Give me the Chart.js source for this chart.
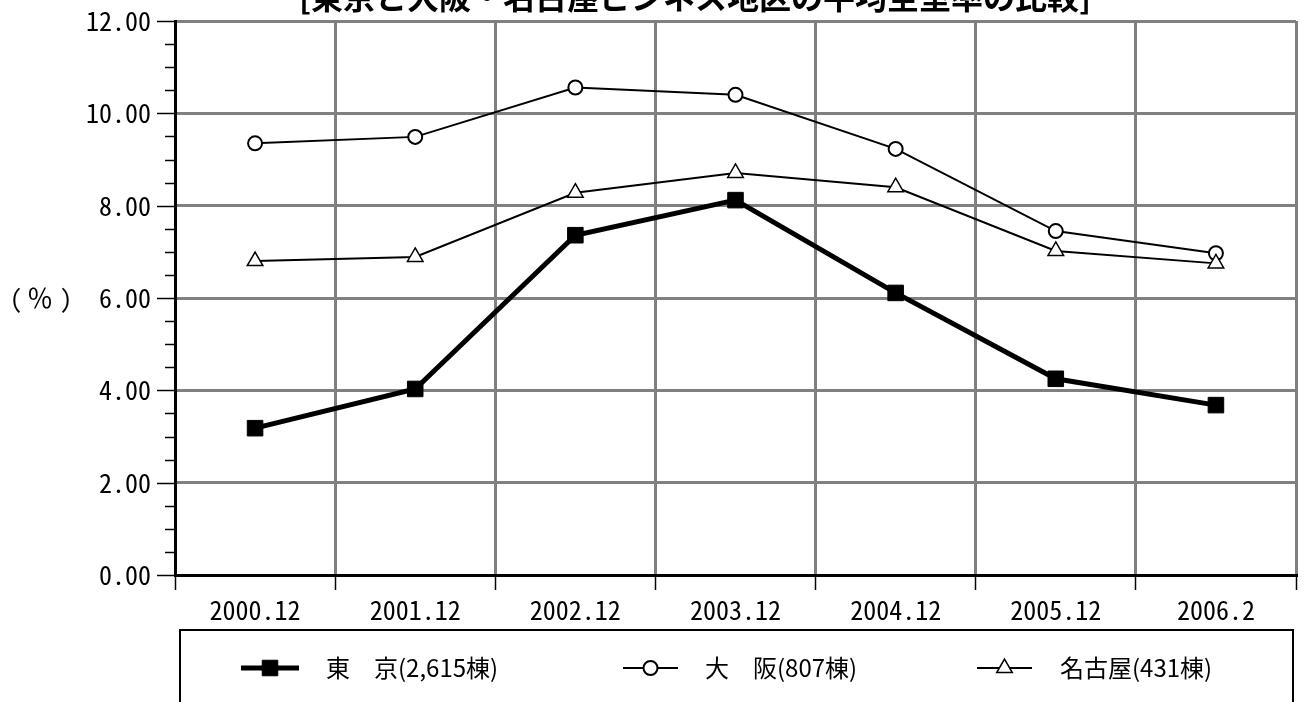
<!DOCTYPE html>
<html lang="ja">
<head>
<meta charset="utf-8">
<title>東京と大阪・名古屋ビジネス地区の平均空室率の比較</title>
<script src="https://cdn.jsdelivr.net/npm/chart.js@4/dist/chart.umd.min.js"></script>
<style>
  html, body { margin: 0; padding: 0; background: #fff; overflow: hidden; }
  #wrap { width: 1308px; height: 702px; }
</style>
</head>
<body>
<div id="wrap"><canvas id="c" width="1308" height="702"></canvas></div>
<script>
// Survey points (year.month)
const categories = ['2000.12', '2001.12', '2002.12', '2003.12', '2004.12', '2005.12', '2006.2'];

// Average vacancy rate (%)
const tokyo  = [3.18, 4.03, 7.36, 8.12, 6.11, 4.25, 3.68];
const osaka  = [9.35, 9.49, 10.56, 10.40, 9.23, 7.45, 6.97];
const nagoya = [6.80, 6.89, 8.28, 8.71, 8.40, 7.02, 6.75];

const seriesNames = ['東　京(2,615棟)', '大　阪(807棟)', '名古屋(431棟)'];
const titleText = '[東京と大阪・名古屋ビジネス地区の平均空室率の比較]';
const yUnitParts = ['(', '％', ')'];

const yMin = 0, yMax = 12, yMajor = 2, yMinor = 0.5;

const numFont = '"Noto Sans Mono CJK JP", "DejaVu Sans Mono", monospace';
const jpFont = '"Noto Sans CJK JP", "Noto Sans", sans-serif';
const GRID = '#808080';

const isMajor = v => Math.abs(v / yMajor - Math.round(v / yMajor)) < 1e-6;

// Title, unit label, minor/major y tick marks and the legend box
const decorations = {
  id: 'decorations',
  afterDraw(chart) {
    const ctx = chart.ctx;
    const y = chart.scales.y;
    const area = chart.chartArea;
    ctx.save();

    // y tick marks
    ctx.strokeStyle = '#000';
    ctx.lineWidth = 1.5;
    y.ticks.forEach(t => {
      const py = Math.round(y.getPixelForValue(t.value)) + 0.5;
      const len = isMajor(t.value) ? 18 : 10;
      ctx.beginPath();
      ctx.moveTo(area.left - len, py);
      ctx.lineTo(area.left, py);
      ctx.stroke();
    });

    // title
    ctx.fillStyle = '#000';
    ctx.font = 'bold 32px ' + jpFont;
    ctx.textAlign = 'center';
    ctx.textBaseline = 'alphabetic';
    ctx.fillText(titleText, 695, 9);

    // unit label
    const uy = y.getPixelForValue(6);
    ctx.textBaseline = 'middle';
    ctx.textAlign = 'center';
    ctx.font = '25px ' + numFont;
    ctx.fillText(yUnitParts[0], 16, uy);
    ctx.font = '26px ' + jpFont;
    ctx.fillText(yUnitParts[1], 40, uy);
    ctx.font = '25px ' + numFont;
    ctx.fillText(yUnitParts[2], 66, uy);

    // legend box
    ctx.lineWidth = 2;
    ctx.strokeStyle = '#000';
    ctx.strokeRect(180, 630, 1113, 120);

    const ly = 668;
    const ds = chart.data.datasets;
    const items = [
      { x0: 241, x1: 299, tx: 326, r: 11 },
      { x0: 623, x1: 678, tx: 705, r: 7 },
      { x0: 977, x1: 1032, tx: 1060, r: 9 }
    ];
    items.forEach((it, i) => {
      const d = ds[i];
      ctx.strokeStyle = '#000';
      ctx.lineWidth = d.borderWidth;
      ctx.beginPath();
      ctx.moveTo(it.x0, ly);
      ctx.lineTo(it.x1, ly);
      ctx.stroke();
      ctx.fillStyle = d.pointBackgroundColor;
      ctx.strokeStyle = d.pointBorderColor;
      ctx.lineWidth = d.pointBorderWidth;
      Chart.helpers.drawPoint(ctx, {
        pointStyle: d.pointStyle,
        radius: it.r,
        borderWidth: d.pointBorderWidth
      }, (it.x0 + it.x1) / 2, ly);
      ctx.fillStyle = '#000';
      ctx.font = '24px ' + jpFont;
      ctx.textAlign = 'left';
      ctx.textBaseline = 'middle';
      ctx.fillText(seriesNames[i], it.tx, ly);
    });
    ctx.restore();
  }
};

new Chart(document.getElementById('c'), {
  type: 'line',
  data: {
    labels: categories,
    datasets: [
      {
        label: seriesNames[0],
        data: tokyo,
        borderColor: '#000',
        borderWidth: 5,
        pointStyle: 'rect',
        pointRadius: 11,
        pointBackgroundColor: '#000',
        pointBorderColor: '#000',
        pointBorderWidth: 1,
        tension: 0,
        order: 2
      },
      {
        label: seriesNames[1],
        data: osaka,
        borderColor: '#000',
        borderWidth: 2,
        pointStyle: 'circle',
        pointRadius: 7,
        pointBackgroundColor: '#fff',
        pointBorderColor: '#000',
        pointBorderWidth: 2,
        tension: 0,
        order: 1
      },
      {
        label: seriesNames[2],
        data: nagoya,
        borderColor: '#000',
        borderWidth: 2,
        pointStyle: 'triangle',
        pointRadius: 9,
        pointBackgroundColor: '#fff',
        pointBorderColor: '#000',
        pointBorderWidth: 1.5,
        tension: 0,
        order: 0
      }
    ]
  },
  options: {
    responsive: false,
    animation: false,
    devicePixelRatio: 1,
    layout: { padding: { top: 21, right: 7, left: 0, bottom: 0 } },
    plugins: {
      legend: { display: false },
      title: { display: false },
      tooltip: { enabled: false }
    },
    scales: {
      x: {
        type: 'category',
        offset: true,
        grid: {
          offset: true,
          color: GRID,
          lineWidth: 3,
          drawTicks: true,
          tickLength: 15,
          tickColor: '#000',
          tickWidth: 1.5
        },
        border: { display: true, color: '#000', width: 3 },
        ticks: {
          color: '#000',
          font: { family: numFont, size: 26 },
          padding: 5,
          maxRotation: 0,
          autoSkip: false
        },
        afterFit(scale) {
          scale.height = 127;
          scale.paddingLeft = 0;
          scale.paddingRight = 0;
        }
      },
      y: {
        type: 'linear',
        min: yMin,
        max: yMax,
        grid: {
          color: c => (c.tick && isMajor(c.tick.value)) ? GRID : 'rgba(0,0,0,0)',
          lineWidth: 3,
          drawTicks: false
        },
        border: { display: true, color: '#000', width: 3 },
        ticks: {
          stepSize: yMinor,
          autoSkip: false,
          maxTicksLimit: 100,
          color: '#000',
          padding: 24,
          font: { family: numFont, size: 26 },
          callback: v => isMajor(v) ? v.toFixed(2) : ''
        },
        afterFit(scale) {
          scale.width = 175;
          scale.paddingTop = 0;
          scale.paddingBottom = 0;
        }
      }
    }
  },
  plugins: [decorations]
});
</script>
</body>
</html>
